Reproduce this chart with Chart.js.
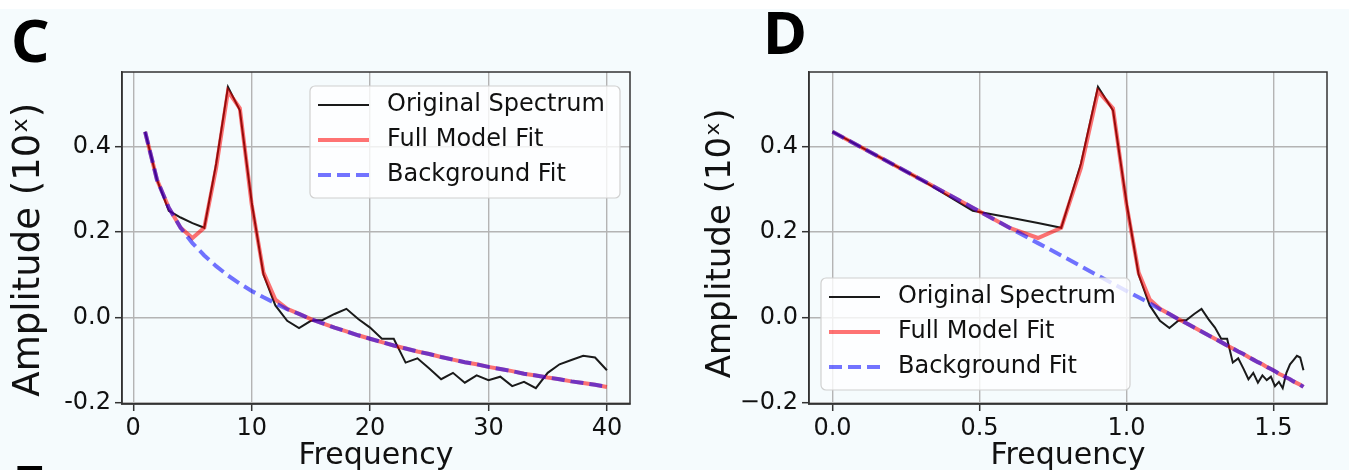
<!DOCTYPE html>
<html>
<head>
<meta charset="utf-8">
<script src="https://cdn.jsdelivr.net/npm/chart.js@4.4.1/dist/chart.umd.min.js"></script>
<style>
  html, body { margin: 0; padding: 0; }
  body { width: 1349px; height: 470px; overflow: hidden; background: #f5fbfd; position: relative; }
  .topstrip { position: absolute; left: 0; top: 0; width: 1349px; height: 9px; background: #fff; }
  .panel { position: absolute; top: 0; }
  .letter { position: absolute; font-family: 'Noto Sans'; font-weight: 700; font-size: 60px; line-height: 60px; color: #000; }
</style>
</head>
<body>
<div class="topstrip"></div>
<div class="panel" style="left:0"><canvas id="chartC" width="680" height="470"></canvas></div>
<div class="panel" style="left:680px"><canvas id="chartD" width="669" height="470"></canvas></div>
<div class="letter" style="left:11px;top:9px">C</div>
<div class="letter" style="left:763px;top:1px">D</div>
<div class="letter" style="left:12px;top:455px">E</div>

<script>
// frequencies (Hz) - panel C plots them linearly, panel D on a log axis
const freqs = [1, 2, 3, 4, 5, 6, 7, 8, 9, 10, 11, 12, 13, 14, 15, 16, 17, 18, 19, 20,
               21, 22, 23, 24, 25, 26, 27, 28, 29, 30, 31, 32, 33, 34, 35, 36, 37, 38, 39, 40];

const spectrum = [0.435, 0.323, 0.25, 0.234, 0.221, 0.21, 0.36, 0.54, 0.485, 0.27,
                  0.10, 0.028, -0.008, -0.025, -0.008, -0.006, 0.008, 0.02, -0.004, -0.024,
                  -0.05, -0.05, -0.106, -0.096, -0.12, -0.145, -0.13, -0.153, -0.136, -0.147,
                  -0.139, -0.161, -0.151, -0.166, -0.13, -0.11, -0.10, -0.09, -0.094, -0.124];

const fullFit = [0.435, 0.323, 0.257, 0.210, 0.186, 0.21, 0.35, 0.53, 0.49, 0.265,
                 0.105, 0.042, 0.02, 0.008, -0.004, -0.014, -0.024, -0.033, -0.042, -0.050,
                 -0.058, -0.066, -0.073, -0.080, -0.086, -0.093, -0.099, -0.105, -0.110, -0.116,
                 -0.121, -0.126, -0.132, -0.136, -0.141, -0.145, -0.150, -0.154, -0.158, -0.163];

const bgFit = [0.435, 0.323, 0.257, 0.210, 0.174, 0.145, 0.120, 0.098, 0.079, 0.062,
               0.047, 0.033, 0.019, 0.008, -0.004, -0.014, -0.024, -0.033, -0.042, -0.050,
               -0.058, -0.066, -0.073, -0.080, -0.086, -0.093, -0.099, -0.105, -0.110, -0.116,
               -0.121, -0.126, -0.132, -0.136, -0.141, -0.145, -0.150, -0.154, -0.158, -0.163];

const seriesLabels = ['Original Spectrum', 'Full Model Fit', 'Background Fit'];

const yTicks = [-0.2, 0, 0.2, 0.4];
const yTickLabelsC = ['-0.2', '0.0', '0.2', '0.4'];
const yTickLabelsD = ['\u22120.2', '0.0', '0.2', '0.4'];
const xTicksC = [0, 10, 20, 30, 40];
const xTickLabelsC = ['0', '10', '20', '30', '40'];
const xTicksD = [1, 3.1623, 10, 31.623];        // log10 = 0, 0.5, 1, 1.5
const xTickLabelsD = ['0.0', '0.5', '1.0', '1.5'];

Chart.defaults.font.family = "'DejaVu Sans'";
Chart.defaults.color = '#111';

const INK = '#111';
const GRID = { color: '#b4b4b4', lineWidth: 1.4, tickLength: 7, tickColor: '#333', tickWidth: 1.5 };
const BORDER = { color: '#333', width: 1.5 };

// axes frame on all four sides + matplotlib-like legend box
const frameLegend = {
    id: 'frameLegend',
    afterDraw(chart, args, opts) {
        const { ctx, chartArea: a } = chart;
        ctx.save();
        ctx.strokeStyle = '#333';
        ctx.lineWidth = 1.5;
        ctx.strokeRect(a.left, a.top, a.right - a.left, a.bottom - a.top);

        const b = opts.box;
        ctx.beginPath();
        ctx.roundRect(b.x, b.y, b.w, b.h, 5);
        ctx.fillStyle = 'rgba(255,255,255,0.8)';
        ctx.fill();
        ctx.strokeStyle = '#d0d0d0';
        ctx.lineWidth = 1.2;
        ctx.stroke();

        ctx.font = "24px 'DejaVu Sans'";
        ctx.textBaseline = 'middle';
        chart.data.datasets.forEach((ds, i) => {
            const y = b.y + 19 + i * 35;
            ctx.beginPath();
            ctx.setLineDash(ds.borderDash || []);
            ctx.strokeStyle = ds.borderColor;
            ctx.lineWidth = ds.borderWidth;
            ctx.moveTo(b.x + 8, y);
            ctx.lineTo(b.x + 59, y);
            ctx.stroke();
            ctx.setLineDash([]);
            ctx.fillStyle = INK;
            ctx.fillText(ds.label, b.x + 77, y);
        });
        ctx.restore();
    }
};

// order: lower value is painted last, so spectrum sits under both fits
function makeDatasets() {
    const pts = arr => freqs.map((f, i) => ({ x: f, y: arr[i] }));
    return [
        { label: seriesLabels[0], data: pts(spectrum), borderColor: '#1a1a1a', borderWidth: 2, order: 2 },
        { label: seriesLabels[1], data: pts(fullFit), borderColor: 'rgba(255,0,0,0.55)', borderWidth: 4, order: 1 },
        { label: seriesLabels[2], data: pts(bgFit), borderColor: 'rgba(0,0,255,0.55)', borderWidth: 4, borderDash: [13, 6], order: 0 }
    ];
}

function makeOptions(p) {
    return {
        responsive: false,
        devicePixelRatio: 1,
        animation: false,
        layout: { padding: { top: 72, right: p.padRight, bottom: 0, left: 0 } },
        elements: { point: { radius: 0 }, line: { tension: 0 } },
        plugins: {
            legend: { display: false },
            tooltip: { enabled: false },
            frameLegend: { box: p.legendBox }
        },
        scales: {
            x: Object.assign({
                afterBuildTicks: s => { s.ticks = p.xTicks.map(v => ({ value: v })); },
                afterFit: s => { s.height = 66; },
                ticks: { callback: (v, i) => p.xLabels[i], font: { size: 24 }, color: INK, padding: 3, maxRotation: 0, autoSkip: false },
                grid: GRID,
                border: BORDER,
                title: { display: true, text: 'Frequency', font: { size: 30, lineHeight: 0.8 }, color: INK, padding: { top: 0, bottom: 2 } }
            }, p.xRange),
            y: {
                type: 'linear',
                min: -0.203,
                max: 0.575,
                afterBuildTicks: s => { s.ticks = yTicks.map(v => ({ value: v })); },
                afterFit: s => { s.width = p.yWidth; },
                ticks: { callback: (v, i) => p.yLabels[i], font: { size: 24 }, color: INK, padding: 4, autoSkip: false },
                grid: GRID,
                border: BORDER,
                title: { display: true, text: p.yTitle, font: { size: p.yTitleSize, lineHeight: 1 }, color: INK, padding: { top: p.yTitlePad, bottom: 0 } }
            }
        }
    };
}

document.addEventListener('DOMContentLoaded', function () {
    new Chart(document.getElementById('chartC'), {
        type: 'line',
        data: { datasets: makeDatasets() },
        options: makeOptions({
            padRight: 50, yWidth: 122, yTitleSize: 37, yTitlePad: 11,
            yTitle: 'Amplitude (10\u02E3)  ',
            xTicks: xTicksC, xLabels: xTickLabelsC, yLabels: yTickLabelsC,
            xRange: { type: 'linear', min: -0.95, max: 41.95 },
            legendBox: { x: 310, y: 86, w: 310, h: 112 }
        }),
        plugins: [frameLegend]
    });

    new Chart(document.getElementById('chartD'), {
        type: 'line',
        data: { datasets: makeDatasets() },
        options: makeOptions({
            padRight: 22, yWidth: 129, yTitleSize: 34, yTitlePad: 24,
            yTitle: 'Amplitude (10\u02E3) ',
            xTicks: xTicksD, xLabels: xTickLabelsD, yLabels: yTickLabelsD,
            xRange: { type: 'logarithmic', min: 0.832, max: 48.1 },
            legendBox: { x: 141, y: 278, w: 309, h: 112 }
        }),
        plugins: [frameLegend]
    });
});
</script>
</body>
</html>
